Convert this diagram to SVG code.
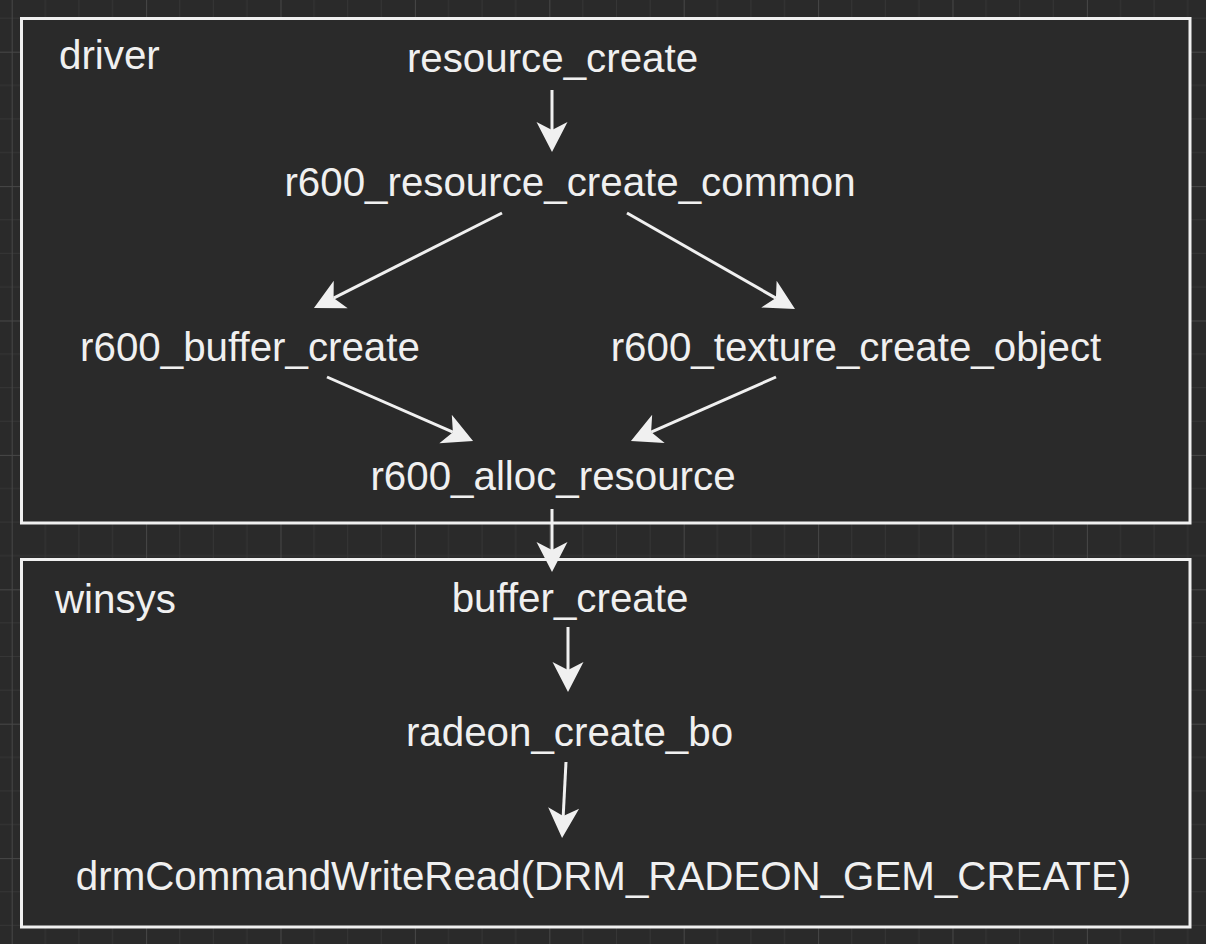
<svg xmlns="http://www.w3.org/2000/svg" width="1206" height="944" viewBox="0 0 1206 944">
  <defs>
    <pattern id="grid" patternUnits="userSpaceOnUse" x="11.7" y="51.7" width="134.4" height="134.4">
      <rect x="0" y="0" width="134.4" height="134.4" fill="#2a2a2a"/>
      <g fill="#363636">
        <rect x="33.1" y="0" width="1" height="134.4"/>
        <rect x="66.7" y="0" width="1" height="134.4"/>
        <rect x="100.3" y="0" width="1" height="134.4"/>
        <rect x="0" y="33.1" width="134.4" height="1"/>
        <rect x="0" y="66.7" width="134.4" height="1"/>
        <rect x="0" y="100.3" width="134.4" height="1"/>
      </g>
      <g fill="#474747">
        <rect x="0" y="0" width="1" height="134.4"/>
        <rect x="0" y="0" width="134.4" height="1"/>
      </g>
    </pattern>
    <marker id="arrow" markerUnits="userSpaceOnUse" orient="auto" markerWidth="40" markerHeight="40" refX="8" refY="0" viewBox="-2 -20 40 40" overflow="visible">
      <path d="M30,0 L0,-15.5 L8,0 L0,15.5 Z" fill="#f0f0f0"/>
    </marker>
    <style>
      .box { fill: #2a2a2a; stroke: #f0f0f0; stroke-width: 3; }
      .lbl { font-family: "Liberation Sans", Arial, Helvetica, sans-serif; font-size: 40.3px; fill: #f0f0f0; text-anchor: middle; }
      .title { font-family: "Liberation Sans", Arial, Helvetica, sans-serif; font-size: 40.3px; fill: #f0f0f0; text-anchor: start; }
      .edge { stroke: #f0f0f0; stroke-width: 3; fill: none; marker-end: url(#arrow); }
    </style>
  </defs>

  <rect x="0" y="0" width="1206" height="944" fill="url(#grid)"/>

  <g id="driver">
    <rect class="box" x="21.5" y="18.5" width="1168.5" height="504.5"/>
    <text class="title" x="59" y="69">driver</text>
  </g>
  <g id="winsys">
    <rect class="box" x="21.5" y="559.5" width="1168.5" height="367.5"/>
    <text class="title" x="55" y="613">winsys</text>
  </g>

  <g id="resource_create"><text class="lbl" x="552.5" y="72">resource_create</text></g>
  <g id="r600_resource_create_common"><text class="lbl" x="570" y="196">r600_resource_create_common</text></g>
  <g id="r600_buffer_create"><text class="lbl" x="250" y="361">r600_buffer_create</text></g>
  <g id="r600_texture_create_object"><text class="lbl" x="856" y="361">r600_texture_create_object</text></g>
  <g id="r600_alloc_resource"><text class="lbl" x="553" y="490">r600_alloc_resource</text></g>
  <g id="buffer_create"><text class="lbl" x="570" y="612">buffer_create</text></g>
  <g id="radeon_create_bo"><text class="lbl" x="569.5" y="746">radeon_create_bo</text></g>
  <g id="drmCommandWriteRead"><text class="lbl" x="603.5" y="890">drmCommandWriteRead(DRM_RADEON_GEM_CREATE)</text></g>

  <g id="connectors">
    <line class="edge" x1="552" y1="90" x2="552" y2="130"/>
    <line class="edge" x1="502" y1="213" x2="333.6" y2="298.1"/>
    <line class="edge" x1="627" y1="213" x2="775.9" y2="298.1"/>
    <line class="edge" x1="327" y1="377" x2="452.9" y2="432.2"/>
    <line class="edge" x1="776" y1="377" x2="651.1" y2="432.1"/>
    <line class="edge" x1="552" y1="509" x2="552" y2="550"/>
    <line class="edge" x1="568" y1="627" x2="568" y2="670"/>
    <line class="edge" x1="566" y1="762" x2="563.2" y2="816"/>
  </g>
</svg>
